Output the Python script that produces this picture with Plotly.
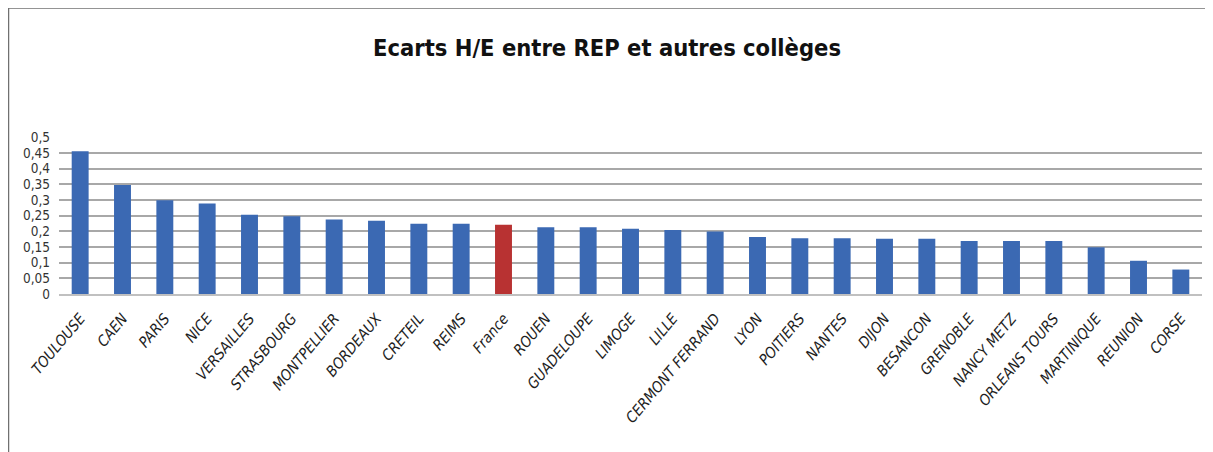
import plotly.graph_objects as go

categories = ["TOULOUSE", "CAEN", "PARIS", "NICE", "VERSAILLES", "STRASBOURG", "MONTPELLIER",
              "BORDEAUX", "CRETEIL", "REIMS", "France", "ROUEN", "GUADELOUPE", "LIMOGE", "LILLE",
              "CERMONT FERRAND", "LYON", "POITIERS", "NANTES", "DIJON", "BESANCON", "GRENOBLE",
              "NANCY METZ", "ORLEANS TOURS", "MARTINIQUE", "REUNION", "CORSE"]
values = [0.455, 0.348, 0.299, 0.289, 0.253, 0.248, 0.238, 0.234, 0.224, 0.224, 0.221,
          0.213, 0.213, 0.208, 0.204, 0.199, 0.182, 0.178, 0.178, 0.176, 0.176, 0.169,
          0.169, 0.169, 0.149, 0.106, 0.078]
y_ticks = [0, 0.05, 0.1, 0.15, 0.2, 0.25, 0.3, 0.35, 0.4, 0.45, 0.5]
y_tick_labels = ["0", "0,05", "0,1", "0,15", "0,2", "0,25", "0,3", "0,35", "0,4", "0,45", "0,5"]
title = "Ecarts H/E entre REP et autres collèges"

BLUE = "#3B69B3"
RED = "#B83232"
colors = [RED if c == "France" else BLUE for c in categories]
FONT = "DejaVu Sans Condensed, Liberation Sans Narrow, sans-serif"

# the page body adds an 8px offset; the figure is sized to compensate
OFF = 8
W, H = 1213 - OFF, 452 - OFF
L, R, T, B = 59 - OFF, 11, 137 - OFF, 452 - 294
pw, ph = W - L - R, H - T - B

def px_x(p):
    return (p - OFF - L) / pw

def px_y(p):
    return (H - B - (p - OFF)) / ph

fig = go.Figure(go.Bar(x=categories, y=values, marker=dict(color=colors, line=dict(width=0)),
                       width=0.4))

fig.update_layout(
    width=W, height=H,
    margin=dict(l=L, r=R, t=T, b=B, autoexpand=False),
    paper_bgcolor="white", plot_bgcolor="white",
    showlegend=False,
    title=dict(text=title, x=(607 - OFF) / W, xref="container", xanchor="center",
               y=1 - (48 - OFF) / H, yref="container", yanchor="middle",
               font=dict(family=FONT, size=23.5, color="#111111", weight="bold")),
    bargap=0.6,
    shapes=[
        dict(type="line", xref="paper", yref="paper", x0=px_x(8), x1=px_x(1300),
             y0=px_y(7.5), y1=px_y(7.5), line=dict(color="#707070", width=2.5)),
        dict(type="line", xref="paper", yref="paper", x0=px_x(8), x1=px_x(8),
             y0=px_y(6.5), y1=px_y(500), line=dict(color="#707070", width=2.5)),
    ],
)
fig.update_xaxes(
    type="category", tickangle=-50, showgrid=False, ticks="", showline=True,
    linecolor="#c0c0c0", linewidth=1.5, automargin=False, ticklabelstandoff=8,
    tickfont=dict(family=FONT, size=15, color="#1e1e1e", style="italic"),
)
fig.update_yaxes(
    range=[0, 0.5008], tickvals=y_ticks, ticktext=y_tick_labels, showgrid=True,
    gridcolor="#a8a8a8", gridwidth=1.5, zeroline=False, ticks="", showline=False,
    automargin=False, ticklabelstandoff=8,
    tickfont=dict(family=FONT, size=13.5, color="#333333"),
)

fig.write_html("out.html")
